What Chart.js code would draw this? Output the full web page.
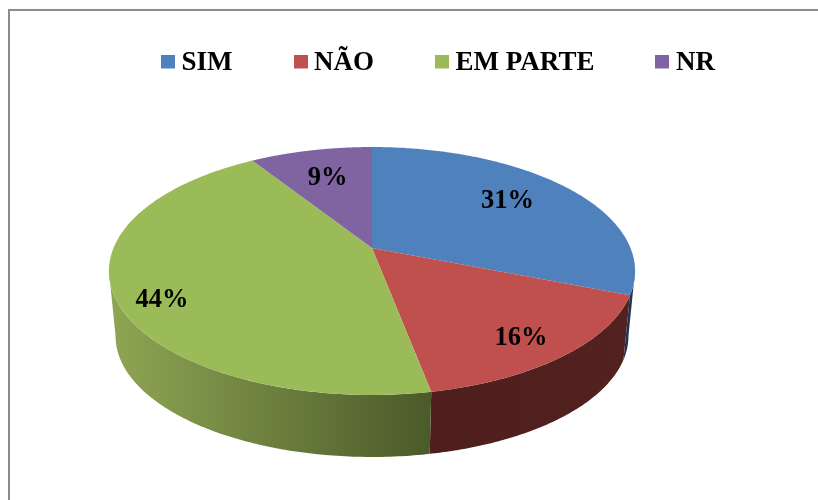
<!DOCTYPE html>
<html><head><meta charset="utf-8">
<style>
html,body{margin:0;padding:0;background:#fff;overflow:hidden}
#frame{position:absolute;left:8px;top:9px;width:900px;height:600px;border-left:2px solid #8c8c8c;border-top:2px solid #8c8c8c}
canvas{position:absolute;left:0;top:0}
</style>
<script src="https://cdn.jsdelivr.net/npm/chart.js@4"></script>
</head><body>
<div id="frame"></div>
<canvas id="c" width="818" height="500"></canvas>
<script>
const categories = ['SIM','NÃO','EM PARTE','NR'];
const values = [31,16,44,9];
const topColors = ['#4f81bd','#c0504d','#9bbb59','#8064a2'];
const wallStops = [
  ['#1c3557','#1c3557'],
  ['#4e1f1e','#522120'],
  ['#8fa653','#4a5a2a'],
  ['#4a3a60','#4a3a60']
];
const labelRadius = [0.71,0.83,0.85,0.69];
const labelAngleShift = [-3,2,-6,0];

const FONT = "bold 26.5px 'Liberation Serif'";
const top3d = {cx:372, cy:248, a:258.5, b:119.7, k:-0.1855};
const bottom3d = {cx:372, cy:313.7, a:252, b:116.7, k:-0.1855};

function project(p, th, r){
  r = r===undefined?1:r;
  const x = r*Math.sin(th), y = -r*Math.cos(th), d = 1+p.k*y;
  return [p.cx+p.a*x/d, p.cy+p.b*y/d];
}
function clockAngle(a){ return a+Math.PI/2; }

// Each arc element of the library is drawn in the tilted, perspective plane of the pie
Chart.ArcElement.prototype.draw = function(ctx){
  const s = clockAngle(this.startAngle), e = clockAngle(this.endAngle);
  ctx.save();
  ctx.fillStyle = this.options.backgroundColor;
  ctx.beginPath();
  ctx.moveTo(top3d.cx, top3d.cy);
  const n = 180;
  for(let i=0;i<=n;i++){
    const p = project(top3d, s+(e-s)*i/n);
    ctx.lineTo(p[0],p[1]);
  }
  ctx.closePath();
  ctx.fill();
  ctx.restore();
};

const walls = {
  id:'walls',
  beforeDatasetsDraw(chart){
    const ctx = chart.ctx, arcs = chart.getDatasetMeta(0).data;
    const lim0 = Math.acos(top3d.k), lim1 = 2*Math.PI-lim0;
    arcs.forEach((arc,i)=>{
      const s = Math.max(clockAngle(arc.startAngle),lim0), e = Math.min(clockAngle(arc.endAngle),lim1);
      if(e<=s) return;
      const n = 120, pts=[];
      for(let j=0;j<=n;j++) pts.push(project(top3d,s+(e-s)*j/n));
      for(let j=n;j>=0;j--) pts.push(project(bottom3d,s+(e-s)*j/n));
      const xs = pts.map(p=>p[0]), x0=Math.min(...xs), x1=Math.max(...xs);
      const g = ctx.createLinearGradient(x0,0,x1,0);
      g.addColorStop(0,wallStops[i][0]); g.addColorStop(1,wallStops[i][1]);
      ctx.save();
      ctx.fillStyle=g;
      ctx.beginPath();
      pts.forEach((p,j)=> j?ctx.lineTo(p[0],p[1]):ctx.moveTo(p[0],p[1]));
      ctx.closePath(); ctx.fill();
      ctx.restore();
    });
  }
};
const pctLabels = {
  id:'pctLabels',
  afterDatasetsDraw(chart){
    const ctx = chart.ctx, arcs = chart.getDatasetMeta(0).data;
    const total = values.reduce((a,b)=>a+b,0);
    ctx.save();
    ctx.font = FONT; ctx.fillStyle='#000'; ctx.textAlign='center'; ctx.textBaseline='middle';
    arcs.forEach((arc,i)=>{
      const mid = clockAngle((arc.startAngle+arc.endAngle)/2)+labelAngleShift[i]*Math.PI/180;
      const p = project(top3d,mid,labelRadius[i]);
      ctx.fillText(Math.round(values[i]/total*100)+'%',p[0],p[1]+1);
    });
    ctx.restore();
  }
};
function swatch(color){
  const c = document.createElement('canvas'); c.width=14; c.height=18;
  const x = c.getContext('2d'); x.fillStyle=color; x.fillRect(0,0,14,14);
  return c;
}
new Chart(document.getElementById('c'),{
  type:'pie',
  data:{labels:categories,datasets:[{data:values,backgroundColor:topColors,borderWidth:0}]},
  options:{
    responsive:false,animation:false,
    layout:{padding:{top:-18,left:65,right:0,bottom:0}},
    plugins:{
      tooltip:{enabled:false},
      legend:{
        display:true,position:'top',align:'center',
        labels:{
          usePointStyle:true,boxWidth:0.01,padding:68,color:'#000',
          font:{family:'Liberation Serif',size:27,weight:'bold'},
          generateLabels(chart){
            return Chart.overrides.pie.plugins.legend.labels.generateLabels(chart)
              .map((it,i)=>Object.assign(it,{pointStyle:swatch(topColors[i])}));
          }
        }
      }
    }
  },
  plugins:[walls,pctLabels]
});
</script>
</body></html>
